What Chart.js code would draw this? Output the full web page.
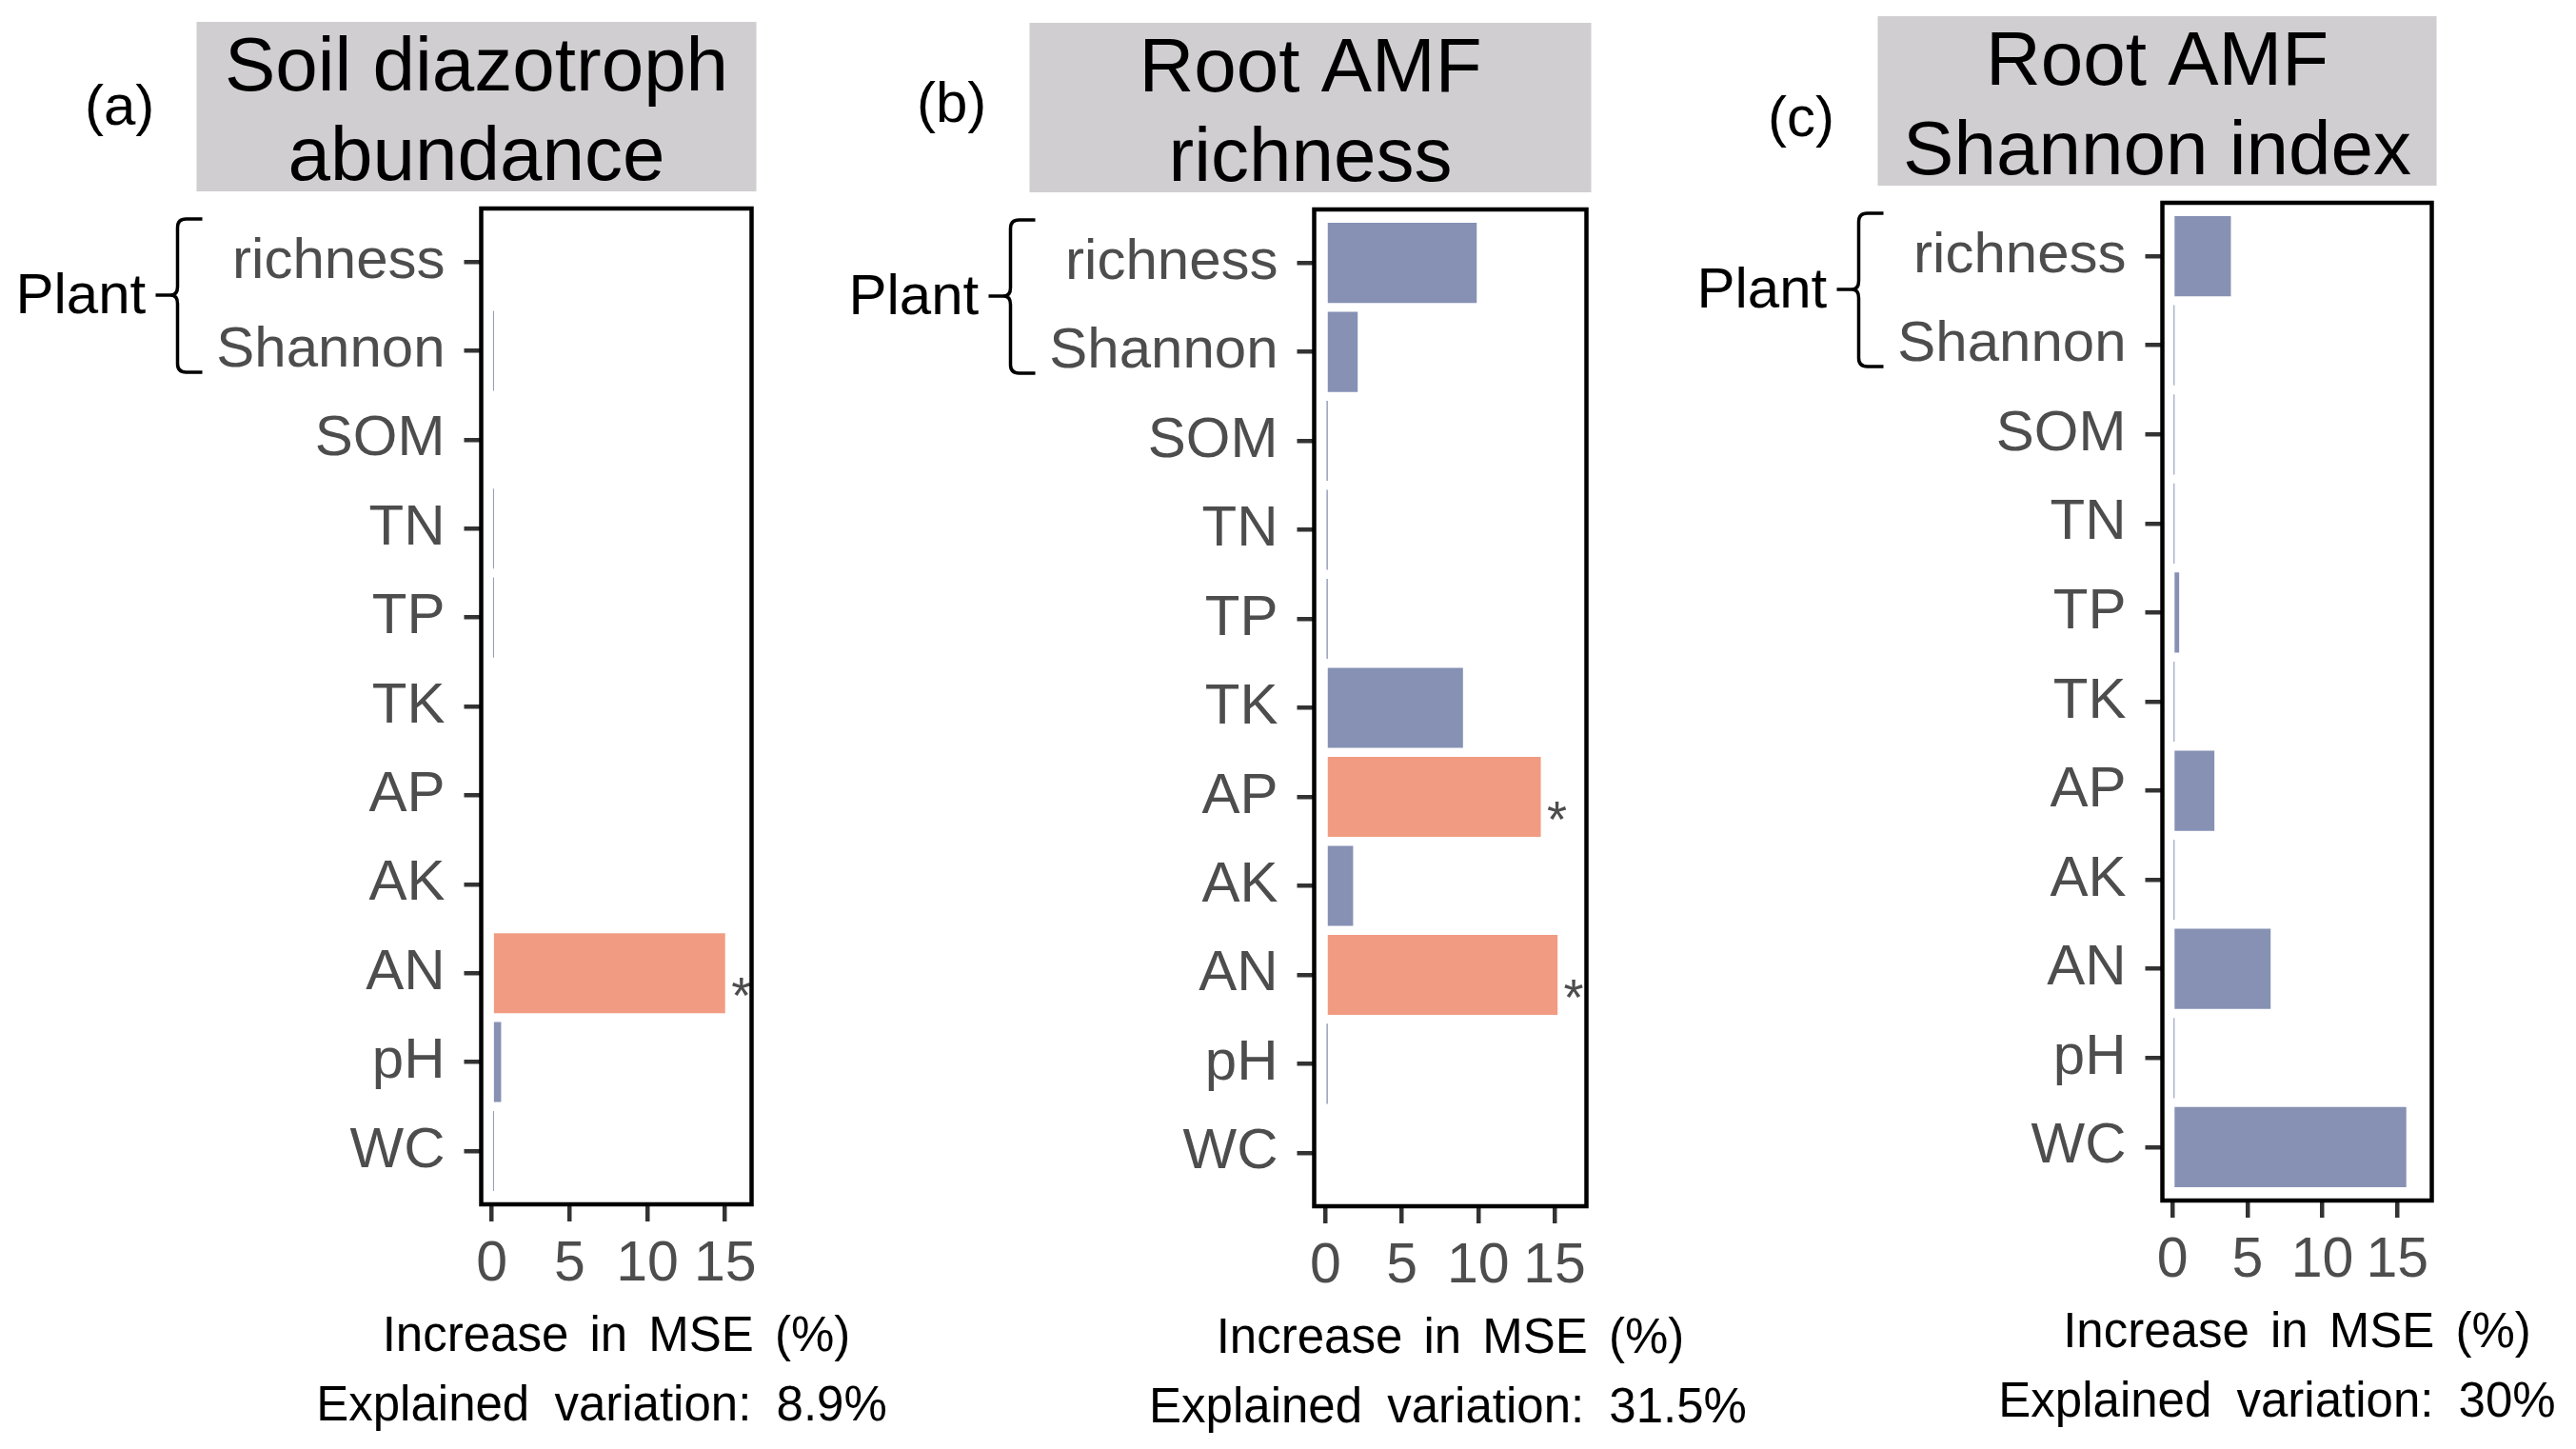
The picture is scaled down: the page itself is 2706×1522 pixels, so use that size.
<!DOCTYPE html>
<html>
<head>
<meta charset="utf-8">
<script src="https://cdn.jsdelivr.net/npm/chart.js@4.4.1/dist/chart.umd.min.js"></script>
<style>
html, body { margin: 0; padding: 0; background: #fff; }
#wrap { position: relative; width: 2706px; height: 1522px; }
canvas { position: absolute; left: 0; top: 0; }
</style>
</head>
<body>
<div id="wrap">
  <canvas id="chartA" width="2706" height="1522"></canvas>
  <canvas id="chartB" width="2706" height="1522"></canvas>
  <canvas id="chartC" width="2706" height="1522"></canvas>
</div>
<script>
// predictors, top to bottom
const predictors = ['richness', 'Shannon', 'SOM', 'TN', 'TP', 'TK', 'AP', 'AK', 'AN', 'pH', 'WC'];
const xTicks = [0, 5, 10, 15];

// increase in MSE (%) per predictor, and significance flags
const mseA = [0, 0.08, 0, 0.08, 0.08, 0, 0, 0, 15.0, 0.6, 0.08];
const sigA = [0, 0, 0, 0, 0, 0, 0, 0, 1, 0, 0];
const mseB = [9.9, 2.1, 0.06, 0.06, 0.06, 9.0, 14.1, 1.8, 15.2, 0.06, 0];
const sigB = [0, 0, 0, 0, 0, 0, 1, 0, 1, 0, 0];
const mseC = [3.9, 0.08, 0.08, 0.08, 0.45, 0.08, 2.8, 0.08, 6.55, 0.08, 15.6];
const sigC = [0, 0, 0, 0, 0, 0, 0, 0, 0, 0, 0];

const titles = [['Soil diazotroph', 'abundance'], ['Root AMF', 'richness'], ['Root AMF', 'Shannon index']];
const tags = ['(a)', '(b)', '(c)'];
const explained = ['8.9%', '31.5%', '30%'];

const FONT = '"Liberation Sans", Arial, sans-serif';
const BLUE = '#8691B4';
const SALMON = '#F19C82';

// panel frames (page pixels)
const frames = [
  { left: 505.5, right: 789.5, top: 219, bottom: 1265, xMin: -0.68, xMax: 16.70, tagX: 89, tagY: 131, expX: 632 },
  { left: 1380.5, right: 1666.5, top: 220, bottom: 1267, xMin: -0.75, xMax: 17.09, tagX: 963, tagY: 128, expX: 1521 },
  { left: 2271.5, right: 2554.5, top: 213, bottom: 1261, xMin: -0.67, xMax: 17.30, tagX: 1857, tagY: 143, expX: 2392 }
];

function decorPlugin(k, values, sig) {
  const P = frames[k];
  return {
    id: 'decor' + k,
    beforeDraw(chart) {
      const ctx = chart.ctx;
      const a = chart.chartArea;
      ctx.save();
      // grey strip with title
      ctx.fillStyle = '#D0CED0';
      ctx.fillRect(a.left - 299, a.top - 196, (a.right + 5) - (a.left - 299), 178);
      ctx.fillStyle = '#000';
      ctx.textAlign = 'center';
      ctx.textBaseline = 'alphabetic';
      ctx.font = '80px ' + FONT;
      const cx = ((a.left - 299) + (a.right + 5)) / 2;
      ctx.fillText(titles[k][0], cx, a.top - 124);
      ctx.fillText(titles[k][1], cx, a.top - 30);

      // panel tag
      ctx.textAlign = 'left';
      ctx.font = '60px ' + FONT;
      ctx.fillText(tags[k], P.tagX, P.tagY);

      // "Plant" with brace
      ctx.fillText('Plant', a.left - 489, a.top + 110);
      const vx = a.left - 319, y1 = a.top + 11, y2 = a.top + 172, tipY = a.top + 91;
      ctx.strokeStyle = '#000';
      ctx.lineWidth = 3.5;
      ctx.beginPath();
      ctx.moveTo(a.left - 293, y1);
      ctx.lineTo(vx + 9, y1);
      ctx.quadraticCurveTo(vx, y1, vx, y1 + 9);
      ctx.lineTo(vx, tipY - 9);
      ctx.quadraticCurveTo(vx, tipY, vx - 7, tipY);
      ctx.quadraticCurveTo(vx, tipY, vx, tipY + 9);
      ctx.lineTo(vx, y2 - 9);
      ctx.quadraticCurveTo(vx, y2, vx + 9, y2);
      ctx.lineTo(a.left - 293, y2);
      ctx.stroke();
      ctx.beginPath();
      ctx.moveTo(a.left - 342, tipY);
      ctx.lineTo(vx - 6, tipY);
      ctx.stroke();

      // axis title and explained variation
      ctx.textAlign = 'center';
      ctx.font = '51px ' + FONT;
      if ('wordSpacing' in ctx) ctx.wordSpacing = '8px';
      ctx.fillText('Increase in MSE (%)', (a.left + a.right) / 2, a.bottom + 154);
      if ('wordSpacing' in ctx) ctx.wordSpacing = '12px';
      ctx.fillText('Explained variation: ' + explained[k], P.expX, a.bottom + 227);
      ctx.restore();
    },
    afterDraw(chart) {
      const ctx = chart.ctx;
      const a = chart.chartArea;
      const xs = chart.scales.x, ys = chart.scales.y;
      ctx.save();
      // significance marks
      ctx.fillStyle = '#4d4d4d';
      ctx.font = '54px ' + FONT;
      ctx.textAlign = 'center';
      ctx.textBaseline = 'alphabetic';
      sig.forEach((s, i) => {
        if (s) ctx.fillText('*', xs.getPixelForValue(values[i] + 1.05), ys.getPixelForValue(i) + 42);
      });
      // panel border
      ctx.strokeStyle = '#000';
      ctx.lineWidth = 4.5;
      ctx.strokeRect(a.left, a.top, a.right - a.left, a.bottom - a.top);
      ctx.restore();
    }
  };
}

function makePanel(id, k, values, sig) {
  const P = frames[k];
  return new Chart(document.getElementById(id), {
    type: 'bar',
    data: {
      datasets: [{
        data: values.map((v, i) => ({ x: v, y: i })),
        backgroundColor: sig.map(s => s ? SALMON : BLUE),
        borderWidth: 0,
        barPercentage: 0.9,
        categoryPercentage: 1.0
      }]
    },
    options: {
      indexAxis: 'y',
      responsive: false,
      animation: false,
      devicePixelRatio: 1,
      layout: { padding: { left: 0, top: P.top, right: 2706 - P.right, bottom: 0 } },
      plugins: { legend: { display: false }, tooltip: { enabled: false } },
      scales: {
        x: {
          type: 'linear',
          min: P.xMin,
          max: P.xMax,
          offset: false,
          afterBuildTicks: s => { s.ticks = xTicks.map(v => ({ value: v })); },
          afterFit: s => { s.height = 1522 - P.bottom; },
          grid: { offset: false, drawOnChartArea: false, tickLength: 18, lineWidth: 4.5, color: '#333333' },
          border: { display: false },
          ticks: {
            font: { family: FONT, size: 59 },
            color: '#4d4d4d',
            padding: 10,
            maxRotation: 0,
            autoSkip: false
          }
        },
        y: {
          type: 'linear',
          min: -0.6,
          max: predictors.length - 0.4,
          reverse: true,
          offset: false,
          afterBuildTicks: s => { s.ticks = predictors.map((_, i) => ({ value: i })); },
          afterFit: s => { s.width = P.left; },
          grid: { offset: false, drawOnChartArea: false, tickLength: 18, lineWidth: 4.5, color: '#333333' },
          border: { display: false },
          ticks: {
            callback: v => predictors[v],
            font: { family: FONT, size: 60 },
            color: '#4d4d4d',
            padding: 20,
            autoSkip: false
          }
        }
      }
    },
    plugins: [decorPlugin(k, values, sig)]
  });
}

makePanel('chartA', 0, mseA, sigA);
makePanel('chartB', 1, mseB, sigB);
makePanel('chartC', 2, mseC, sigC);
</script>
</body>
</html>
